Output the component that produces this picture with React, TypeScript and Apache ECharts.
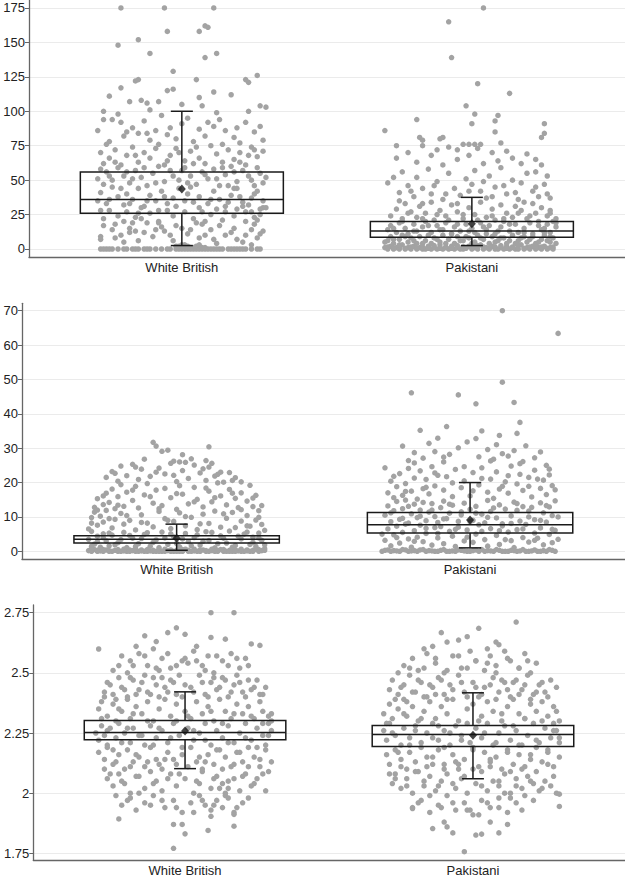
import React, { useEffect, useRef } from "react";
import * as echarts from "echarts";

const categories = ["White British", "Pakistani"];

// jittered points: [offset in hundredths of a category, value]
const p1WhiteBritish: number[][] = [
  [-28,0],[-26,0],[-24,0],[-22,0],[-19,0],[-17,0],[-15,0],[-13,0],[-11,0],[-9,0],[-7,0],[-4,0],[-2,0],[-1,0],[1,0],[2,0],[3,0],[4,0],[5,0],[7,0],[8,0],[9,0],[11,0],[13,0],[14,0],[16,0],[17,0],[19,0],[20,0],[22,0],[24,0],[26,0],[27,0],
  [-2,2],[1,3],[4,1],[5,2],[8,1],[24,3],
  [-28,9],[-28,7],[-24,14],[-21,10],[-18,12],[-18,15],[-15,6],[-13,12],[-12,19],[-9,14],[-8,20],[-6,13],[-4,10],[-2,17],[0,3],[3,14],[5,19],[6,8],[8,10],[10,14],[12,4],[15,10],[17,12],[19,7],[22,10],[24,14],[26,8],[28,13],
  [-27,22],[-25,28],[-23,18],[-22,24],[-20,20],[-19,27],[-17,19],[-16,23],[-14,30],[-11,26],[-8,19],[-5,28],[-3,24],[0,15],[1,27],[4,22],[6,30],[8,20],[10,25],[13,17],[15,27],[18,24],[19,29],[21,31],[22,20],[24,27],[25,23],[27,25],[28,30],[26,21],
  [-29,35],[-28,41],[-26,33],[-24,45],[-22,38],[-20,32],[-19,40],[-17,36],[-15,44],[-13,31],[-11,39],[-9,35],[-7,42],[-5,33],[-3,37],[-1,44],[2,40],[4,34],[6,38],[9,33],[11,42],[13,36],[15,31],[17,39],[19,44],[21,34],[23,32],[24,37],[26,42],[28,35],[29,30],
  [-29,51],[-27,47],[-26,56],[-24,50],[-22,59],[-20,53],[-18,48],[-16,57],[-14,52],[-12,46],[-10,55],[-8,60],[-6,49],[-4,57],[-1,50],[1,59],[3,53],[5,47],[7,56],[9,51],[11,58],[13,46],[15,54],[17,60],[19,49],[21,57],[23,53],[25,46],[27,55],[29,52],[28,48],
  [-28,70],[-27,62],[-25,66],[-23,72],[-21,61],[-19,68],[-17,74],[-15,63],[-13,70],[-11,66],[-9,73],[-6,61],[-4,68],[-2,73],[1,64],[3,71],[6,66],[8,62],[10,75],[12,69],[14,63],[16,72],[18,65],[20,70],[22,61],[24,74],[26,67],[28,71],
  [-29,86],[-27,94],[-25,78],[-24,94],[-22,98],[-21,92],[-19,85],[-17,88],[-15,84],[-13,93],[-11,79],[-9,86],[-7,97],[-5,83],[-2,80],[0,91],[2,95],[4,78],[6,87],[8,82],[11,89],[13,94],[15,86],[18,81],[20,77],[22,92],[23,100],[25,85],[27,89],[28,79],
  [-27,100],[-25,111],[-21,117],[-18,107],[-16,122],[-15,123],[-14,108],[-12,106],[-11,101],[-8,107],[-5,115],[-3,116],[-3,129],[0,105],[5,123],[6,110],[7,104],[11,114],[12,99],[17,112],[22,123],[23,121],[26,126],[27,104],[29,103],
  [-21,175],[-6,175],[11,175],[-22,148],[-15,152],[-5,158],[6,158],[8,162],[9,161],[-11,142],[8,139],[12,142],
  [-27,0],[-25,0],[-20,0],[-16,0],[-12,0],[-5,0],[0,0],[6,0],[10,0],[12,0],[18,0],[21,0],[-1,2],[0,1],[2,2],[3,1],[6,3],[7,1],
  [-27,17],[-23,8],[-20,5],[-16,13],[-14,22],[-10,9],[-7,16],[-3,6],[2,11],[7,18],[11,7],[14,21],[18,15],[21,5],[25,18],[27,11],
  [-28,28],[-25,36],[-21,44],[-18,33],[-15,26],[-12,35],[-8,28],[-6,38],[-2,31],[1,35],[3,45],[7,27],[10,36],[12,29],[16,34],[18,44],[20,38],[22,27],[25,40],[27,29],
  [-28,58],[-25,53],[-23,63],[-19,56],[-17,51],[-13,59],[-9,48],[-5,64],[-3,53],[0,57],[2,48],[4,62],[8,54],[12,51],[14,59],[16,46],[18,56],[20,63],[24,50],[26,59],
  [-26,76],[-20,82],[-16,68],[-12,84],[-8,76],[-4,88],[-1,70],[5,74],[9,92],[14,76],[19,88],[23,68],[25,72]
];

const p1Pakistani: number[][] = [
  [-30,1],[-29,0],[-28,2],[-27,0],[-26,1],[-25,0],[-24,3],[-23,0],[-22,1],[-21,0],[-20,2],[-19,0],[-18,1],[-17,0],[-16,0],[-15,2],[-14,0],[-13,1],[-12,0],[-11,3],[-10,0],[-9,1],[-8,0],[-7,2],[-6,0],[-5,1],[-4,0],[-3,0],[-1,2],[0,0],[1,1],[2,0],[3,3],[4,0],[5,1],[6,0],[7,2],[8,0],[9,0],[10,1],[11,0],[12,2],[13,0],[14,1],[15,0],[16,0],[17,3],[18,0],[19,1],[20,0],[21,2],[22,0],[23,1],[24,0],[25,2],[26,0],[27,1],[28,0],
  [-29,6],[-28,9],[-27,4],[-25,7],[-24,10],[-22,5],[-21,8],[-19,4],[-18,9],[-16,6],[-14,4],[-13,8],[-11,5],[-10,10],[-8,7],[-6,4],[-5,9],[-3,6],[-1,8],[1,5],[2,10],[4,7],[6,4],[7,9],[9,6],[11,8],[12,4],[14,10],[16,6],[17,8],[19,5],[21,9],[22,4],[24,7],[25,10],[27,5],[28,8],[26,6],
  [-29,14],[-28,17],[-26,12],[-25,19],[-23,15],[-22,11],[-20,18],[-19,13],[-17,16],[-16,20],[-14,12],[-12,17],[-11,14],[-9,19],[-7,11],[-6,16],[-4,13],[-2,18],[0,15],[1,12],[3,19],[5,14],[6,17],[8,11],[10,16],[11,20],[13,13],[15,18],[16,12],[18,15],[20,19],[21,11],[23,17],[24,14],[26,18],[27,12],[29,16],[28,20],
  [-28,24],[-26,29],[-24,22],[-23,33],[-21,27],[-19,23],[-18,31],[-16,26],[-14,34],[-13,21],[-11,28],[-9,24],[-7,32],[-5,27],[-3,22],[-1,30],[1,25],[3,34],[5,23],[7,29],[8,21],[10,32],[12,26],[14,23],[15,31],[17,28],[19,22],[21,33],[22,26],[24,30],[26,24],[27,28],[29,22],
  [-29,48],[-27,52],[-25,41],[-24,56],[-22,46],[-20,38],[-19,52],[-17,44],[-15,58],[-14,40],[-12,49],[-10,36],[-8,55],[-6,44],[-4,39],[-2,51],[0,47],[1,57],[3,42],[5,37],[6,53],[8,45],[10,59],[12,40],[14,50],[16,36],[17,48],[19,55],[21,42],[23,38],[25,47],[27,37],[26,53],[22,56],
  [-26,66],[-22,70],[-19,63],[-17,75],[-14,68],[-12,72],[-10,61],[-8,74],[-5,65],[-3,76],[-1,68],[2,73],[4,62],[7,70],[9,64],[12,71],[14,66],[17,62],[19,69],[22,65],[24,61],
  [-30,86],[-26,75],[-19,94],[-18,81],[-17,79],[-10,81],[-11,80],[-5,72],[-1,76],[1,76],[3,76],[-2,104],[1,98],[0,91],[9,97],[8,93],[8,85],[10,77],[25,91],[25,84],[24,81],[2,120],[13,113],[-7,139],[-8,165],[4,175],
  [-29,1.5],[-27,0.5],[-25,1.5],[-23,0.5],[-21,1.5],[-19,0.5],[-17,1.5],[-15,0.5],[-13,2.5],[-11,0.5],[-9,1.5],[-7,0.5],[-5,2.5],[-3,1.5],[-2,0.5],[0,1.5],[2,2.5],[4,1.5],[6,0.5],[8,1.5],[10,2.5],[12,0.5],[14,1.5],[16,2.5],[18,0.5],[20,1.5],[22,2.5],[24,1.5],[26,0.5],[28,1.5],
  [-30,5],[-27,7],[-25,3],[-23,9],[-20,6],[-17,4],[-15,10],[-12,7],[-9,4],[-7,11],[-4,6],[-2,9],[0,4],[3,8],[5,11],[8,5],[10,8],[13,6],[15,4],[18,9],[20,7],[23,5],[25,12],[27,9],[29,4],
  [-27,15],[-24,20],[-22,26],[-20,13],[-17,22],[-15,17],[-12,25],[-10,14],[-8,21],[-5,18],[-3,25],[-1,13],[2,21],[4,16],[7,24],[9,13],[11,22],[13,18],[16,26],[18,12],[20,24],[23,20],[25,15],[27,26],[29,19],
  [-25,35],[-21,42],[-17,33],[-13,46],[-9,40],[-5,33],[-1,42],[4,49],[7,38],[11,46],[15,41],[18,34],[22,45],[26,40]
];

const p2WhiteBritish: number[][] = [
  [-30,0.2],[-29,0],[-28,0.5],[-27,0],[-26,0.1],[-25,0],[-24,0.4],[-23,0],[-22,0],[-21,0.3],[-20,0],[-19,0],[-18,0.6],[-17,0],[-16,0],[-15,0.2],[-14,0],[-13,0],[-12,0.4],[-11,0],[-10,0],[-9,0.1],[-8,0],[-7,0],[-6,0.5],[-5,0],[-4,0],[-3,0.2],[-2,0],[-1,0],[0,0.3],[1,0],[2,0],[3,0.6],[4,0],[5,0],[6,0.1],[7,0],[8,0],[9,0.4],[10,0],[11,0],[12,0.2],[13,0],[14,0],[15,0.5],[16,0],[17,0],[18,0.3],[19,0],[20,0],[21,0.1],[22,0],[23,0],[24,0.4],[25,0],[26,0],[27,0.6],[28,0],[29,0.2],
  [-30,3.5],[-29,5.8],[-28,2.1],[-27,4.4],[-26,1.2],[-25,5.1],[-24,3.0],[-23,1.6],[-22,4.7],[-20,2.5],[-18,5.5],[-17,1.1],[-15,3.8],[-13,2.2],[-11,4.9],[-9,1.5],[-7,3.3],[-5,5.6],[-3,2.0],[-1,4.2],[1,1.3],[3,5.2],[4,2.8],[6,4.0],[8,1.8],[10,5.7],[11,3.1],[13,1.0],[15,4.5],[17,2.4],[18,5.9],[20,1.7],[22,3.6],[23,5.0],[25,2.0],[26,4.1],[27,1.4],[28,5.3],[29,3.2],[30,0.8],
  [-30,6.5],[-29,9.8],[-28,11.4],[-27,7.6],[-26,10.2],[-25,8.5],[-24,11.9],[-22,6.8],[-21,9.3],[-19,11.0],[-18,7.9],[-16,9.0],[-14,6.2],[-12,10.6],[-10,8.2],[-8,7.1],[-6,11.6],[-4,9.5],[-2,6.6],[-1,8.7],[1,11.2],[3,7.4],[5,9.9],[7,6.3],[9,10.8],[11,8.1],[13,11.7],[15,7.0],[17,9.6],[19,11.3],[20,6.9],[22,8.8],[24,10.4],[25,7.3],[27,9.1],[28,11.8],[29,7.8],[30,6.1],
  [-28,12.8],[-27,15.3],[-25,13.6],[-24,16.9],[-23,14.2],[-22,18.1],[-21,12.4],[-20,15.9],[-19,19.4],[-18,13.1],[-17,17.2],[-15,14.8],[-14,18.9],[-13,12.6],[-11,16.4],[-10,19.7],[-8,14.0],[-7,17.8],[-5,13.3],[-4,18.3],[-2,15.6],[0,12.2],[1,19.1],[2,16.6],[4,13.8],[6,18.6],[7,15.1],[9,12.9],[11,17.5],[12,14.4],[14,19.9],[15,16.1],[17,13.5],[18,18.0],[20,15.4],[21,12.7],[22,17.0],[24,14.6],[25,19.2],[26,13.0],[27,16.3],
  [-24,21.5],[-22,23.2],[-20,20.4],[-19,24.8],[-17,22.0],[-15,25.3],[-13,20.9],[-12,23.9],[-9,21.8],[-6,24.2],[-4,22.5],[-2,25.6],[0,20.3],[2,23.5],[4,21.2],[6,25.1],[8,22.8],[10,20.6],[11,24.5],[13,21.9],[15,23.0],[16,20.1],[18,22.9],[20,21.4],[22,20.2],
  [-8,31.7],[-7,30.6],[-5,29.1],[-3,29.4],[2,28.1],[-1,26.2],[1,26.0],[10,26.4],[11,30.4],[12,25.6],[-11,26.8],[5,26.9],
  [-29,0.6],[-27,0.3],[-25,0.5],[-23,0.2],[-20,0.5],[-18,0.1],[-16,0.4],[-14,0.6],[-12,0.1],[-10,0.5],[-8,0.3],[-6,0],[-4,0.6],[-2,0.4],[0,0],[2,0.5],[4,0.3],[6,0.6],[8,0.4],[10,0.2],[12,0.6],[14,0.3],[16,0.5],[18,0],[20,0.4],[22,0.6],[24,0.1],[26,0.3],[28,0.5],[30,0.3],
  [-29,1.5],[-27,2.8],[-25,4.0],[-23,5.3],[-21,1.9],[-19,3.4],[-16,4.6],[-14,1.4],[-12,3.7],[-10,5.4],[-8,2.6],[-6,1.1],[-4,3.9],[-2,5.1],[0,2.3],[2,3.6],[5,1.6],[7,4.8],[9,2.9],[12,5.5],[14,2.2],[16,3.8],[19,1.2],[21,4.4],[24,5.6],[26,2.6],[28,3.9],[30,1.9],
  [-29,8.2],[-27,12.0],[-25,16.1],[-23,9.5],[-20,13.4],[-17,10.4],[-15,17.8],[-12,8.4],[-9,15.9],[-6,12.4],[-3,9.0],[0,16.8],[3,10.1],[6,14.4],[8,8.0],[10,18.4],[13,15.6],[16,10.9],[19,16.9],[22,12.1],[24,7.4],[26,15.5],[28,9.9],[29,13.3],
  [-21,22.7],[-14,24.5],[-7,23.0],[-1,22.1],[3,25.9],[9,24.0],[14,22.4],[19,20.6]
];

const p2Pakistani: number[][] = [
  [-30,0],[-28,0.4],[-27,0],[-26,0.2],[-24,0],[-23,0.5],[-21,0],[-20,0.1],[-18,0],[-17,0.4],[-15,0],[-14,0.2],[-12,0],[-11,0],[-9,0.5],[-8,0],[-6,0.1],[-5,0],[-3,0.3],[-1,0],[0,0],[2,0.4],[3,0],[5,0],[6,0.2],[8,0],[9,0.5],[11,0],[13,0],[14,0.3],[16,0],[17,0.1],[19,0],[20,0],[22,0.4],[23,0],[25,0.2],[26,0],[27,0.5],[29,0],
  [-29,3.2],[-28,6.5],[-27,1.6],[-26,4.8],[-25,7.3],[-24,2.4],[-23,5.5],[-22,7.9],[-21,3.6],[-20,1.2],[-19,6.0],[-18,4.1],[-17,7.6],[-16,2.8],[-15,5.2],[-13,1.8],[-12,6.9],[-11,3.9],[-10,7.2],[-9,2.2],[-7,5.8],[-6,4.4],[-5,1.4],[-4,7.0],[-2,3.0],[-1,6.2],[1,2.6],[2,5.0],[3,7.7],[5,3.4],[6,1.5],[7,6.6],[9,4.6],[10,2.0],[11,7.4],[13,5.6],[14,3.1],[15,1.1],[16,6.3],[18,4.0],[19,7.8],[20,2.7],[22,5.3],[23,3.8],[24,6.8],[25,1.9],[27,4.9],[28,2.5],[29,6.1],[30,3.5],
  [-29,10.5],[-28,13.2],[-27,8.6],[-26,11.8],[-25,14.5],[-24,9.3],[-23,12.4],[-22,14.9],[-21,8.2],[-20,10.9],[-19,13.7],[-18,9.8],[-17,12.0],[-16,14.2],[-15,8.9],[-14,11.4],[-13,13.9],[-12,10.1],[-11,8.4],[-10,12.7],[-9,14.6],[-8,9.5],[-7,11.1],[-6,13.4],[-4,8.7],[-3,10.6],[-2,14.0],[0,12.2],[1,9.0],[2,13.1],[4,10.8],[5,8.3],[6,14.8],[7,11.6],[9,9.7],[10,13.5],[11,8.0],[12,12.3],[14,10.3],[15,14.3],[16,11.9],[17,8.8],[18,13.0],[20,10.0],[21,12.8],[22,9.2],[24,14.1],[25,11.2],[26,8.5],[27,12.9],[28,10.4],[29,14.7],
  [-28,17.0],[-27,20.4],[-26,15.6],[-25,18.8],[-24,22.6],[-23,16.3],[-22,19.7],[-21,24.1],[-20,17.5],[-19,21.3],[-18,15.2],[-17,23.4],[-16,18.2],[-15,20.9],[-14,16.7],[-13,24.6],[-12,19.0],[-11,22.1],[-9,17.8],[-8,21.7],[-6,15.9],[-5,23.8],[-3,18.5],[-2,20.5],[0,16.1],[1,22.9],[3,19.3],[4,24.3],[6,17.2],[7,21.0],[8,15.4],[9,23.1],[11,18.9],[12,20.2],[13,16.9],[14,24.8],[16,19.6],[17,22.4],[18,17.7],[20,21.5],[21,15.8],[22,23.6],[24,18.3],[25,20.7],[26,16.5],[27,22.2],[28,19.1],
  [-29,24.3],[-23,30.6],[-21,26.4],[-19,28.7],[-17,35.2],[-16,27.1],[-14,31.4],[-12,29.0],[-11,32.9],[-9,26.0],[-8,36.3],[-7,28.2],[-4,30.1],[-1,31.8],[2,32.8],[3,27.5],[4,35.0],[6,29.6],[8,26.8],[9,31.0],[10,33.7],[11,28.4],[13,27.7],[15,29.3],[16,34.3],[18,26.1],[19,30.7],[22,27.2],[24,28.9],[27,23.9],
  [11,70],[30,63.4],[11,49.2],[-20,46.1],[-4,45.5],[2,42.9],[15,43.3],[17,37.5],
  [-29,0.3],[-25,0.1],[-22,0.4],[-19,0.2],[-16,0.5],[-13,0.1],[-10,0.3],[-7,0],[-4,0.4],[-2,0.1],[1,0.2],[4,0.5],[7,0.1],[10,0.3],[12,0],[15,0.2],[18,0.5],[21,0.1],[24,0],[28,0.3],
  [-30,5.0],[-27,11.2],[-25,4.0],[-23,9.6],[-21,13.1],[-19,2.9],[-17,10.2],[-15,6.7],[-13,12.0],[-11,5.2],[-9,9.4],[-7,13.7],[-5,6.4],[-3,11.5],[-1,4.1],[0,8.6],[2,11.1],[4,5.8],[6,9.9],[8,12.6],[10,6.0],[12,3.4],[14,8.1],[16,13.9],[18,6.5],[20,11.7],[22,3.2],[24,9.0],[26,13.3],[28,6.4],[30,10.0],
  [-26,21.8],[-22,17.4],[-19,25.7],[-15,18.6],[-12,22.8],[-9,27.4],[-6,19.9],[-2,24.6],[1,17.6],[4,21.2],[7,26.3],[10,18.1],[13,22.0],[17,25.5],[20,18.9],[23,21.0],[26,25.0],[29,17.9]
];

const p3WhiteBritish: number[][] = [
  [9,2.75],[17,2.75],
  [-3,2.687],[-14,2.654],[-6,2.667],[0,2.66],[9,2.647],[-30,2.599],[23,2.62],[26,2.614],[-10,2.63],[-17,2.61],[14,2.64],[4,2.61],
  [-25,2.51],[-22,2.57],[-19,2.55],[-16,2.58],[-13,2.53],[-11,2.6],[-8,2.56],[-5,2.52],[-1,2.55],[1,2.54],[3,2.59],[6,2.53],[8,2.57],[10,2.5],[13,2.55],[16,2.58],[19,2.52],[21,2.56],[22,2.53],[-20,2.5],[-9,2.51],
  [-28,2.42],[-27,2.46],[-25,2.41],[-23,2.48],[-22,2.44],[-20,2.4],[-18,2.47],[-16,2.43],[-14,2.49],[-12,2.41],[-10,2.45],[-8,2.48],[-6,2.42],[-4,2.46],[-1,2.4],[2,2.44],[5,2.49],[7,2.41],[9,2.46],[11,2.43],[13,2.48],[15,2.4],[17,2.45],[18,2.49],[20,2.42],[22,2.47],[24,2.44],[26,2.41],[28,2.44],[-2,2.49],
  [-30,2.35],[-29,2.38],[-27,2.32],[-25,2.37],[-24,2.3],[-22,2.34],[-20,2.39],[-19,2.31],[-17,2.36],[-15,2.33],[-13,2.38],[-11,2.3],[-9,2.35],[-7,2.39],[-5,2.32],[-3,2.37],[0,2.34],[2,2.31],[4,2.38],[6,2.33],[8,2.36],[10,2.3],[12,2.39],[14,2.34],[16,2.31],[18,2.37],[20,2.33],[22,2.36],[24,2.31],[26,2.38],[27,2.34],[29,2.32],[30,2.3],
  [-31,2.25],[-30,2.22],[-29,2.28],[-28,2.24],[-27,2.2],[-26,2.27],[-24,2.23],[-23,2.29],[-21,2.25],[-19,2.21],[-18,2.27],[-16,2.24],[-14,2.2],[-12,2.28],[-10,2.23],[-8,2.26],[-6,2.21],[-4,2.29],[-2,2.24],[1,2.27],[3,2.22],[5,2.25],[7,2.29],[9,2.2],[11,2.26],[13,2.23],[15,2.28],[17,2.21],[19,2.25],[21,2.29],[23,2.22],[25,2.27],[27,2.24],[28,2.2],[30,2.26],[29,2.29],
  [-30,2.17],[-28,2.14],[-27,2.19],[-25,2.12],[-23,2.16],[-21,2.1],[-20,2.18],[-18,2.13],[-16,2.15],[-14,2.11],[-12,2.19],[-10,2.14],[-8,2.1],[-6,2.17],[-3,2.12],[-1,2.16],[2,2.19],[4,2.13],[6,2.1],[8,2.16],[10,2.12],[12,2.18],[14,2.15],[16,2.11],[18,2.17],[20,2.13],[22,2.19],[24,2.15],[26,2.11],[28,2.18],[30,2.13],
  [-27,2.06],[-25,2.03],[-23,2.08],[-21,2.04],[-19,2.0],[-17,2.07],[-14,2.02],[-12,2.09],[-10,2.05],[-8,2.01],[-5,2.08],[-3,2.03],[0,2.06],[3,2.0],[5,2.04],[6,2.09],[9,2.02],[11,2.07],[13,2.04],[14,2.0],[15,2.02],[17,2.06],[19,2.01],[21,2.08],[23,2.03],[25,2.06],[27,2.08],[28,2.01],
  [-22,1.95],[-19,1.98],[-17,1.93],[-14,1.96],[-11,1.99],[-7,1.94],[-4,1.97],[-1,1.92],[2,1.96],[5,1.99],[7,1.95],[9,1.93],[11,1.97],[13,1.94],[15,1.98],[17,1.92],[20,1.96],[-24,1.99],
  [-23,1.893],[-4,1.87],[-4,1.771],[0,1.831],[8,1.845],[17,1.863],[17,1.912],[9,1.904],[-1,1.87],
  [-29,2.31],[-27,2.26],[-25,2.18],[-23,2.35],[-22,2.21],[-20,2.27],[-18,2.33],[-17,2.16],[-15,2.24],[-13,2.3],[-11,2.2],[-9,2.27],[-7,2.14],[-5,2.23],[-3,2.3],[-1,2.19],[1,2.32],[3,2.26],[5,2.15],[7,2.22],[9,2.34],[11,2.18],[13,2.29],[15,2.21],[17,2.33],[19,2.17],[21,2.23],[23,2.32],[25,2.19],[27,2.29],[29,2.24],[30,2.33],
  [-28,2.4],[-26,2.45],[-24,2.39],[-21,2.43],[-19,2.48],[-17,2.41],[-15,2.46],[-13,2.42],[-11,2.48],[-9,2.4],[-7,2.44],[-5,2.47],[-3,2.41],[0,2.45],[3,2.42],[6,2.46],[8,2.4],[10,2.48],[12,2.44],[14,2.47],[16,2.42],[19,2.46],[21,2.4],[23,2.43],[25,2.47],[27,2.41],
  [-28,2.1],[-26,2.08],[-24,2.13],[-22,2.05],[-19,2.11],[-16,2.07],[-13,2.13],[-11,2.04],[-9,2.12],[-6,2.06],[-4,2.14],[-2,2.08],[1,2.11],[4,2.05],[7,2.13],[10,2.06],[12,2.02],[13,2.1],[15,2.05],[17,2.12],[20,2.07],[22,2.11],[24,2.04],[26,2.14],[29,2.09],
  [-20,1.97],[-16,2.0],[-12,1.95],[-8,1.97],[-3,1.94],[3,1.92],[6,1.97],[10,1.95],[14,1.99],[18,1.94],[22,1.98],
  [-18,2.53],[-14,2.57],[-10,2.52],[-6,2.58],[-3,2.53],[0,2.56],[4,2.55],[7,2.51],[11,2.57],[15,2.53],[18,2.56],[-23,2.53]
];

const p3Pakistani: number[][] = [
  [15,2.711],[2,2.685],[-11,2.667],[-5,2.636],[-9,2.628],[8,2.628],[9,2.617],[-2,2.65],[5,2.6],[-14,2.61],[-17,2.6],
  [-24,2.53],[-21,2.56],[-19,2.51],[-16,2.58],[-13,2.54],[-10,2.5],[-7,2.57],[-4,2.52],[-1,2.59],[1,2.55],[4,2.51],[6,2.57],[8,2.53],[11,2.59],[13,2.55],[16,2.52],[18,2.58],[20,2.5],[22,2.54],[-26,2.5],
  [-29,2.43],[-28,2.47],[-26,2.41],[-24,2.45],[-22,2.49],[-20,2.42],[-18,2.46],[-16,2.4],[-14,2.44],[-12,2.48],[-10,2.41],[-8,2.45],[-5,2.49],[-3,2.42],[0,2.46],[2,2.4],[4,2.44],[7,2.48],[9,2.42],[11,2.46],[13,2.4],[15,2.47],[17,2.43],[19,2.49],[21,2.41],[23,2.45],[25,2.42],[27,2.47],[29,2.44],
  [-31,2.33],[-29,2.37],[-28,2.31],[-26,2.35],[-24,2.39],[-23,2.32],[-21,2.36],[-19,2.3],[-17,2.34],[-15,2.38],[-13,2.31],[-11,2.36],[-9,2.33],[-7,2.39],[-5,2.3],[-2,2.35],[0,2.37],[3,2.32],[5,2.38],[7,2.34],[10,2.3],[12,2.36],[14,2.39],[16,2.33],[18,2.31],[20,2.37],[22,2.34],[24,2.38],[26,2.32],[28,2.36],[30,2.3],
  [-31,2.26],[-30,2.22],[-29,2.29],[-27,2.24],[-25,2.2],[-24,2.27],[-22,2.23],[-20,2.28],[-18,2.21],[-16,2.25],[-14,2.29],[-12,2.22],[-10,2.26],[-8,2.2],[-6,2.28],[-4,2.24],[-1,2.21],[1,2.27],[3,2.23],[5,2.29],[7,2.2],[9,2.25],[11,2.28],[13,2.22],[15,2.26],[17,2.2],[19,2.24],[21,2.29],[23,2.21],[25,2.27],[27,2.23],[29,2.26],[30,2.21],[28,2.29],
  [-30,2.16],[-29,2.12],[-27,2.18],[-25,2.14],[-23,2.1],[-22,2.17],[-20,2.13],[-18,2.19],[-16,2.11],[-14,2.15],[-12,2.18],[-10,2.12],[-7,2.16],[-5,2.1],[-3,2.14],[0,2.19],[2,2.11],[4,2.17],[6,2.13],[8,2.15],[10,2.1],[12,2.18],[14,2.12],[16,2.16],[18,2.11],[20,2.14],[22,2.19],[24,2.13],[26,2.17],[28,2.11],[30,2.15],
  [-28,2.04],[-27,2.08],[-25,2.02],[-23,2.06],[-21,2.0],[-19,2.09],[-17,2.03],[-15,2.07],[-13,2.01],[-11,2.05],[-9,2.08],[-6,2.02],[-4,2.06],[-2,2.0],[1,2.04],[3,2.09],[5,2.01],[7,2.05],[9,2.03],[11,2.08],[13,2.0],[15,2.06],[17,2.02],[19,2.07],[21,2.04],[23,2.01],[25,2.05],[27,2.03],[29,2.0],
  [-21,1.94],[-18,1.97],[-15,1.92],[-12,1.95],[-9,1.99],[-6,1.93],[-3,1.96],[0,1.91],[3,1.97],[6,1.94],[9,1.98],[12,1.92],[15,1.96],[18,1.99],[30,1.945],[30,1.996],[-21,1.936],[-1,1.93],
  [-14,1.853],[-9,1.86],[-7,1.835],[1,1.826],[3,1.83],[9,1.835],[-3,1.757],[-10,1.88],[6,1.88],[12,1.87],
  [-30,2.29],[-28,2.25],[-26,2.17],[-24,2.33],[-22,2.2],[-20,2.26],[-18,2.31],[-16,2.15],[-14,2.23],[-12,2.28],[-10,2.19],[-8,2.25],[-6,2.13],[-4,2.22],[-2,2.29],[0,2.18],[2,2.3],[4,2.25],[6,2.14],[8,2.21],[10,2.33],[12,2.17],[14,2.28],[16,2.2],[18,2.31],[20,2.16],[22,2.22],[24,2.3],[26,2.18],[28,2.26],[30,2.23],[29,2.34],
  [-27,2.39],[-25,2.44],[-23,2.38],[-21,2.42],[-19,2.47],[-17,2.4],[-15,2.45],[-13,2.41],[-11,2.47],[-9,2.39],[-7,2.43],[-4,2.46],[-2,2.4],[1,2.44],[3,2.41],[6,2.45],[8,2.39],[10,2.47],[12,2.43],[14,2.46],[16,2.41],[18,2.45],[20,2.39],[22,2.42],[24,2.46],[26,2.4],
  [-29,2.08],[-27,2.06],[-25,2.11],[-23,2.03],[-20,2.09],[-17,2.05],[-14,2.12],[-12,2.03],[-10,2.1],[-7,2.04],[-5,2.12],[-3,2.07],[0,2.1],[3,2.03],[6,2.11],[9,2.05],[11,2.0],[13,2.09],[15,2.03],[17,2.1],[20,2.05],[22,2.09],[24,2.02],[26,2.12],[28,2.07],
  [-19,1.96],[-15,1.99],[-11,1.94],[-7,1.96],[-2,1.93],[2,1.91],[5,1.96],[9,1.94],[13,1.98],[17,1.93],[21,1.97],
  [-17,2.52],[-13,2.56],[-9,2.51],[-5,2.57],[-2,2.52],[1,2.55],[5,2.54],[8,2.5],[12,2.56],[16,2.52],[19,2.55],[-22,2.52]
];

// box statistics per category: [q1, median, q3, lower whisker, upper whisker]
const p1Box: number[][] = [[26, 36, 56, 2.5, 100], [8.5, 13, 20, 2.5, 37.5]];
const p2Box: number[][] = [[2.4, 3.5, 4.5, 0.3, 7.9], [5.3, 7.7, 11.3, 1, 20]];
const p3Box: number[][] = [[2.222, 2.252, 2.302, 2.102, 2.421], [2.194, 2.244, 2.281, 2.06, 2.417]];
const p1Mean: number[] = [43.6, 18.4];
const p2Mean: number[] = [3.8, 9.1];
const p3Mean: number[] = [2.258, 2.241];

const p1Ticks = [0, 25, 50, 75, 100, 125, 150, 175];
const p2Ticks = [0, 10, 20, 30, 40, 50, 60, 70];
const p3Ticks = [1.75, 2, 2.25, 2.5, 2.75];

const FONT = "'Liberation Sans', Arial, sans-serif";
const DOT = "#a3a3a3";
const INK = "#1a1a1a";
const BOX_HALF = 0.35;
const CAP_HALF = 0.038;

function jitter(points: number[][], center: number) {
  return points.map((p) => [center + p[0] / 100, p[1]]);
}

export default function App() {
  const ref = useRef<HTMLDivElement>(null);

  useEffect(() => {
    if (!ref.current) return;
    const chart = echarts.init(ref.current, null, { renderer: "svg" });

    const panels = [
      { top: 0, height: 257, left: 29, min: -5.81, max: 180.8, ticks: p1Ticks, wb: p1WhiteBritish, pk: p1Pakistani, box: p1Box, mean: p1Mean },
      { top: 303.3, height: 256, left: 22, min: -2.33, max: 72.15, ticks: p2Ticks, wb: p2WhiteBritish, pk: p2Pakistani, box: p2Box, mean: p2Mean },
      { top: 605, height: 256.7, left: 33.3, min: 1.7224, max: 2.7818, ticks: p3Ticks, wb: p3WhiteBritish, pk: p3Pakistani, box: p3Box, mean: p3Mean },
    ];

    const grid = panels.map((p) => ({ left: p.left, right: 0, top: p.top, height: p.height, containLabel: false }));

    const xAxis = panels.map((p, i) => ({
      type: "value",
      gridIndex: i,
      min: 0.473,
      max: 2.528,
      axisLine: { show: true, onZero: false, lineStyle: { color: "#666", width: 1.3 } },
      axisTick: { show: false },
      splitLine: { show: false },
      axisLabel: {
        customValues: [1, 2],
        formatter: (v: number) => categories[Math.round(v) - 1] ?? "",
        color: "#222",
        fontSize: 13,
        fontFamily: FONT,
        margin: 4,
      },
    }));

    const yAxis = panels.map((p, i) => ({
      type: "value",
      gridIndex: i,
      min: p.min,
      max: p.max,
      axisLine: { show: true, onZero: false, lineStyle: { color: "#666", width: 1.3 } },
      axisTick: { show: true, length: 4, customValues: p.ticks, lineStyle: { color: "#666" } },
      splitLine: { show: true, lineStyle: { color: "#ebebeb", width: 1 } },
      axisLabel: {
        customValues: p.ticks,
        color: "#222",
        fontSize: 13,
        fontFamily: FONT,
        margin: 4,
      },
    }));

    const series: any[] = [];
    panels.forEach((p, i) => {
      series.push({
        type: "scatter",
        xAxisIndex: i,
        yAxisIndex: i,
        data: [...jitter(p.wb, 1), ...jitter(p.pk, 2)],
        symbolSize: 5.5,
        itemStyle: { color: DOT, opacity: 1 },
        z: 2,
        silent: true,
      });
      series.push({
        type: "custom",
        xAxisIndex: i,
        yAxisIndex: i,
        z: 5,
        silent: true,
        clip: false,
        data: p.box.map((b, k) => [k + 1, ...b]),
        encode: { x: 0, y: [1, 2, 3, 4, 5] },
        renderItem: (params: any, api: any) => {
          const x = api.value(0);
          const q1 = api.value(1);
          const med = api.value(2);
          const q3 = api.value(3);
          const lo = api.value(4);
          const hi = api.value(5);
          const tl = api.coord([x - BOX_HALF, q3]);
          const br = api.coord([x + BOX_HALF, q1]);
          const ml = api.coord([x - BOX_HALF, med]);
          const mr = api.coord([x + BOX_HALF, med]);
          const c = api.coord([x, q3]);
          const h = api.coord([x, hi]);
          const l = api.coord([x, lo]);
          const b = api.coord([x, q1]);
          const capL = api.coord([x - CAP_HALF, hi])[0];
          const capR = api.coord([x + CAP_HALF, hi])[0];
          const st = { stroke: INK, lineWidth: 1.5, fill: null };
          return {
            type: "group",
            children: [
              { type: "rect", shape: { x: tl[0], y: tl[1], width: br[0] - tl[0], height: br[1] - tl[1] }, style: { ...st, fill: "none" } },
              { type: "line", shape: { x1: ml[0], y1: ml[1], x2: mr[0], y2: mr[1] }, style: st },
              { type: "line", shape: { x1: c[0], y1: c[1], x2: h[0], y2: h[1] }, style: st },
              { type: "line", shape: { x1: capL, y1: h[1], x2: capR, y2: h[1] }, style: st },
              { type: "line", shape: { x1: b[0], y1: b[1], x2: l[0], y2: l[1] }, style: st },
              { type: "line", shape: { x1: capL, y1: l[1], x2: capR, y2: l[1] }, style: st },
            ],
          };
        },
      });
      series.push({
        type: "scatter",
        xAxisIndex: i,
        yAxisIndex: i,
        data: p.mean.map((m, k) => [k + 1, m]),
        symbol: "diamond",
        symbolSize: [8, 9],
        itemStyle: { color: "#111" },
        z: 6,
        silent: true,
      });
    });

    chart.setOption({
      animation: false,
      backgroundColor: "#fff",
      grid,
      xAxis,
      yAxis,
      series,
    });

    return () => chart.dispose();
  }, []);

  return (
    <div
      ref={ref}
      style={{ position: "fixed", left: 0, top: 0, width: 625, height: 877, background: "#fff" }}
    />
  );
}
